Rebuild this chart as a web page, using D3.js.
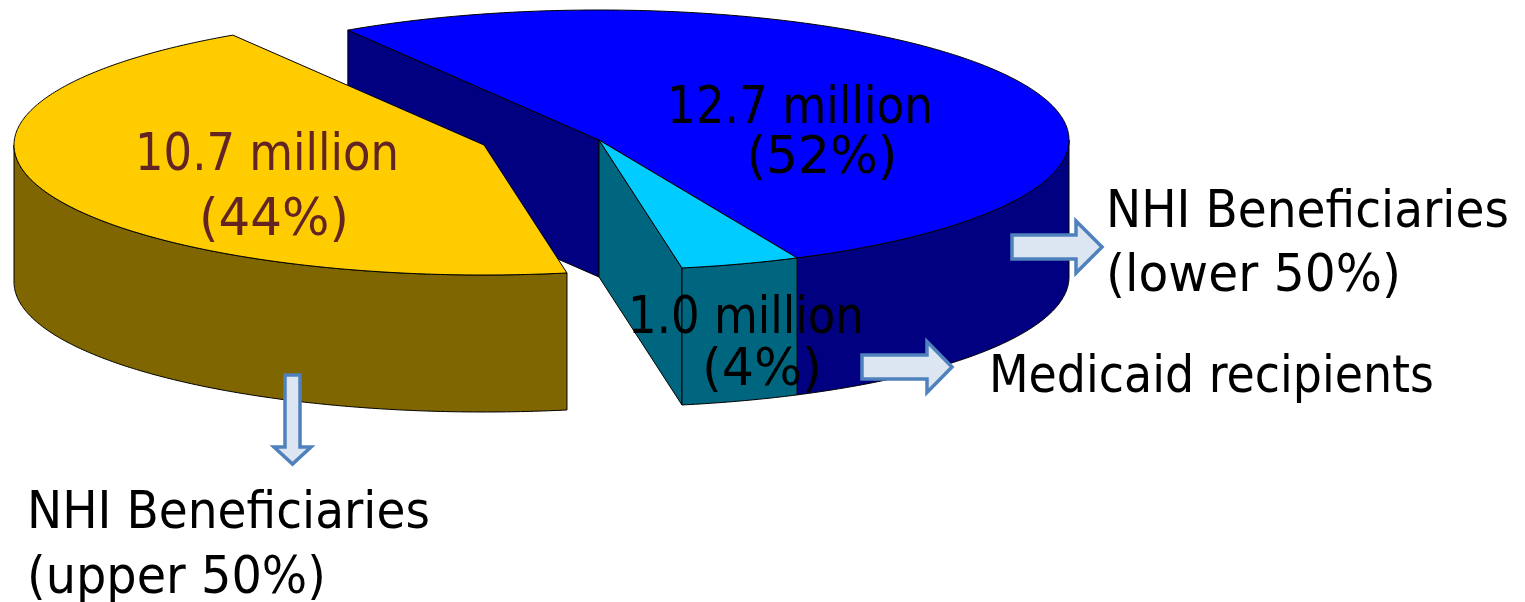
<!DOCTYPE html>
<html>
<head>
<meta charset="utf-8">
<script src="https://cdn.jsdelivr.net/npm/d3@7"></script>
<style>
  html, body { margin: 0; padding: 0; background: #ffffff; overflow: hidden; }
  svg { display: block; }
</style>
</head>
<body>
<svg id="chart" width="1525" height="602"></svg>
<script>
// Population covered by each group, in millions
const categories = ["NHI Beneficiaries (lower 50%)", "Medicaid recipients", "NHI Beneficiaries (upper 50%)"];
const values = [12.7, 1.0, 10.7];
const valueLabels = ["12.7 million", "1.0 million", "10.7 million"];
const shareLabels = ["(52%)", "(4%)", "(44%)"];
const legendLines = [["NHI Beneficiaries", "(lower 50%)"], ["Medicaid recipients"], ["NHI Beneficiaries", "(upper 50%)"]];

// Colours: top faces, side walls, in-slice label text
const topColors = ["#0000FF", "#00CCFF", "#FFCC00"];
const sideColors = ["#000080", "#006680", "#806600"];
const labelColors = ["#000000", "#000000", "#632523"];

// 3-D pie layout
const pieGeo = { cx: 599, cy: 140, rx: 470, ry: 130, depth: 137, startDeg: -32.3 };
const sliceShift = [[0, 0], [0, 0], [-115, 5]];   // exploded offset per slice (px)

// Text layout
const fontFamily = "'DejaVu Sans', Verdana, sans-serif";
const fontSize = 52;
const sliceLabelPos = [
  { x1: 800, y1: 123, w1: 266, x2: 822, y2: 173, w2: 151 },
  { x1: 746, y1: 333, w1: 236, x2: 762, y2: 385, w2: 120 },
  { x1: 267, y1: 170, w1: 264, x2: 274, y2: 235, w2: 150 }
];
const legendPos = [
  { x: 1106, y: [227, 291], w: [403, 295] },
  { x: 989, y: [392], w: [445] },
  { x: 27, y: [528, 593], w: [403, 299] }
];
// Block arrows pointing from each slice to its legend text
const arrowPos = [
  { x0: 1012, y0: 247, x1: 1102, y1: 247, shaft: 24, head: 52, headLen: 26 },
  { x0: 862, y0: 367, x1: 952, y1: 367, shaft: 24, head: 51, headLen: 25 },
  { x0: 292.5, y0: 375, x1: 292.5, y1: 464, shaft: 15, head: 37, headLen: 17 }
];

const svg = d3.select("#chart");
const TAU = 2 * Math.PI;
const a0 = pieGeo.startDeg * Math.PI / 180;

const arcs = d3.pie().sort(null).value(d => d)
  .startAngle(a0).endAngle(a0 + TAU)(values);

// Project a pie-plane point (angle, radius fraction) to the screen, z = drop below top
function proj(a, r, shift, z) {
  return [
    pieGeo.cx + shift[0] + r * pieGeo.rx * Math.sin(a),
    pieGeo.cy + shift[1] - r * pieGeo.ry * Math.cos(a) + z
  ];
}
function arcPoints(s, e, shift, z) {
  const n = Math.max(2, Math.ceil(Math.abs(e - s) / 0.01));
  return d3.range(n + 1).map(i => proj(s + (e - s) * i / n, 1, shift, z));
}
const line = d3.line().curve(d3.curveLinear);
const closed = pts => line(pts) + "Z";

const gCut = svg.append("g");
const gWall = svg.append("g");
const gTop = svg.append("g");

const sameShift = (i, j) => sliceShift[i][0] === sliceShift[j][0] && sliceShift[i][1] === sliceShift[j][1];
const n = arcs.length;

arcs.forEach((d, i) => {
  const sh = sliceShift[i];
  const h = pieGeo.depth;

  // Radial cut faces, drawn when they face the viewer and are not hidden by an attached neighbour
  [[d.startAngle, (i - 1 + n) % n, -Math.PI / 2],
   [d.endAngle, (i + 1) % n, Math.PI / 2]].forEach(([a, nb, rot]) => {
    const normal = a + rot;
    if (-Math.cos(normal) <= 0) return;
    if (sameShift(i, nb)) return;
    const c0 = proj(a, 0, sh, 0), r0 = proj(a, 1, sh, 0);
    gCut.append("path")
      .attr("d", closed([c0, r0, [r0[0], r0[1] + h], [c0[0], c0[1] + h]]))
      .attr("fill", sideColors[i]).attr("stroke", "#000").attr("stroke-width", 1)
      .attr("stroke-linejoin", "round");
  });

  // Outer wall on the front half of the rim
  [[Math.PI / 2, 3 * Math.PI / 2], [Math.PI / 2 - TAU, 3 * Math.PI / 2 - TAU], [Math.PI / 2 + TAU, 3 * Math.PI / 2 + TAU]]
    .forEach(([f0, f1]) => {
      const s = Math.max(d.startAngle, f0), e = Math.min(d.endAngle, f1);
      if (e <= s) return;
      const top = arcPoints(s, e, sh, 0);
      const bottom = arcPoints(s, e, sh, h).reverse();
      gWall.append("path")
        .attr("d", closed(top.concat(bottom)))
        .attr("fill", sideColors[i]).attr("stroke", "#000").attr("stroke-width", 1)
        .attr("stroke-linejoin", "round");
    });

  // Top face
  gTop.append("path")
    .attr("d", closed([proj(0, 0, sh, 0)].concat(arcPoints(d.startAngle, d.endAngle, sh, 0))))
    .attr("fill", topColors[i]).attr("stroke", "#000").attr("stroke-width", 1)
    .attr("stroke-linejoin", "round");
});

// Text helper: humanist sans, narrowed horizontally to a target advance width
function addText(g, str, x, y, w, color, anchor) {
  const t = g.append("text")
    .attr("x", 0)
    .attr("y", 0)
    .attr("font-family", fontFamily)
    .attr("font-size", fontSize)
    .attr("fill", color)
    .text(str);
  const natural = t.node().getComputedTextLength();
  const sx = w / natural;
  const left = anchor === "middle" ? x - w / 2 : x;
  t.attr("transform", `translate(${left},${y}) scale(${sx},1)`);
  return t;
}

// In-slice value labels
const gLabels = svg.append("g");
arcs.forEach((d, i) => {
  const p = sliceLabelPos[i];
  addText(gLabels, valueLabels[i], p.x1, p.y1, p.w1, labelColors[i], "middle");
  addText(gLabels, shareLabels[i], p.x2, p.y2, p.w2, labelColors[i], "middle");
});

// Arrows
function blockArrow(a) {
  const dx = a.x1 - a.x0, dy = a.y1 - a.y0;
  const L = Math.hypot(dx, dy);
  const ux = dx / L, uy = dy / L, px = -uy, py = ux;
  const pt = (along, across) => [a.x0 + ux * along + px * across, a.y0 + uy * along + py * across];
  const s = a.shaft / 2, hh = a.head / 2, b = L - a.headLen;
  return [pt(0, -s), pt(b, -s), pt(b, -hh), pt(L, 0), pt(b, hh), pt(b, s), pt(0, s)];
}
const gArrows = svg.append("g");
arrowPos.forEach(a => {
  gArrows.append("path")
    .attr("d", closed(blockArrow(a)))
    .attr("fill", "#DCE6F2")
    .attr("stroke", "#4F81BD")
    .attr("stroke-width", 3.5)
    .attr("stroke-linejoin", "miter");
});

// Legend text for each group
const gLegend = svg.append("g");
categories.forEach((c, i) => {
  const p = legendPos[i];
  legendLines[i].forEach((ln, k) => {
    addText(gLegend, ln, p.x, p.y[k], p.w[k], "#000000", "start");
  });
});
</script>
</body>
</html>
